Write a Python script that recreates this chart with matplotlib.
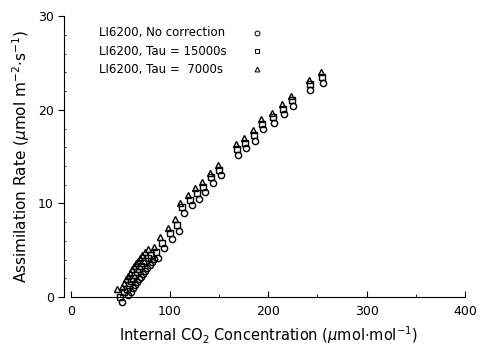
import matplotlib
matplotlib.use('Agg')
import matplotlib.pyplot as plt
from matplotlib.ticker import MultipleLocator

plt.rcParams['font.family'] = 'DejaVu Sans'
plt.rcParams['mathtext.fontset'] = 'dejavusans'

# LI6200, No correction (circles)
circ_x = [52, 58, 61, 63, 65, 67, 69, 71, 73, 75, 77, 80, 82, 84,
          88, 94, 102, 109, 115, 123, 130, 136, 144, 152, 169, 178, 187, 195, 206, 216, 225, 243, 256]
circ_y = [-0.5, 0.2, 0.6, 1.0, 1.3, 1.6, 1.9, 2.2, 2.5, 2.8, 3.1, 3.4, 3.7, 4.1,
          4.2, 5.2, 6.2, 7.1, 9.0, 9.8, 10.5, 11.2, 12.2, 13.0, 15.2, 15.9, 16.7, 17.9, 18.6, 19.5, 20.4, 22.1, 22.9]

# LI6200, Tau = 15000s (squares)
sq_x = [50, 54, 57, 59, 61, 63, 65, 67, 69, 71, 73, 75, 78, 81,
        86, 92, 100, 107, 113, 121, 128, 134, 142, 150, 168, 177, 186, 194, 205, 215, 224, 242, 255]
sq_y = [0.0, 0.5, 0.9, 1.3, 1.7, 2.0, 2.4, 2.7, 3.0, 3.3, 3.6, 3.9, 4.2, 4.5,
        4.8, 5.8, 6.8, 7.7, 9.6, 10.4, 11.1, 11.8, 12.8, 13.6, 15.8, 16.5, 17.3, 18.5, 19.2, 20.1, 21.0, 22.7, 23.5]

# LI6200, Tau = 7000s (triangles)
tri_x = [47, 52, 54, 56, 58, 60, 62, 64, 66, 68, 70, 72, 75, 78,
         84, 90, 98, 105, 111, 119, 126, 133, 141, 149, 167, 176, 185, 193, 204, 214, 223, 241, 254]
tri_y = [0.9, 1.1, 1.5, 1.9, 2.3, 2.6, 3.0, 3.3, 3.6, 3.9, 4.2, 4.5, 4.8, 5.1,
         5.4, 6.4, 7.4, 8.3, 10.1, 10.9, 11.6, 12.3, 13.3, 14.1, 16.3, 17.0, 17.8, 19.0, 19.7, 20.6, 21.5, 23.2, 24.0]

labels = ['LI6200, No correction', 'LI6200, Tau = 15000s', 'LI6200, Tau =  7000s']
markers = ['o', 's', '^']

fig = plt.figure(figsize=(4.84, 3.5), dpi=100)
ax = fig.add_axes([0.147, 0.151, 0.814, 0.803])

series = [(circ_x, circ_y), (sq_x, sq_y), (tri_x, tri_y)]
for (x, y), m in zip(series, markers):
    ax.plot(x, y, linestyle='none', marker=m, markersize=4.5, markerfacecolor='none',
            markeredgecolor='black', markeredgewidth=1.0, clip_on=False)

# legend drawn as text + marker
leg_y = [28.2, 26.25, 24.3]
for lab, m, yy in zip(labels, markers, leg_y):
    ax.text(28.5, yy, lab, fontsize=8.5, va='center', ha='left')
    ax.plot([189], [yy], linestyle='none', marker=m, markersize=3.5, markerfacecolor='none',
            markeredgecolor='black', markeredgewidth=0.7)

ax.set_xlim(0, 400)
ax.set_ylim(0, 30)
ax.spines['top'].set_visible(False)
ax.spines['right'].set_visible(False)
ax.spines['left'].set_position(('outward', 5))

ax.set_xticks([0, 100, 200, 300, 400])
ax.set_yticks([0, 10, 20, 30])
ax.xaxis.set_minor_locator(MultipleLocator(50))
ax.yaxis.set_minor_locator(MultipleLocator(2))
ax.tick_params(axis='x', direction='in', length=4, width=0.8, labelsize=9, pad=6)
ax.tick_params(axis='x', which='minor', direction='in', length=2)
ax.tick_params(axis='y', direction='out', length=4, width=0.8, labelsize=9)
ax.tick_params(axis='y', which='minor', direction='in', length=1.5)

ax.set_xlabel(r'Internal CO$_2$ Concentration ($\mu$mol$\cdot$mol$^{-1}$)', fontsize=10.5)
ax.set_ylabel(r'Assimilation Rate ($\mu$mol m$^{-2}$$\cdot$s$^{-1}$)', fontsize=11)

fig.savefig('out.png', dpi=100)
